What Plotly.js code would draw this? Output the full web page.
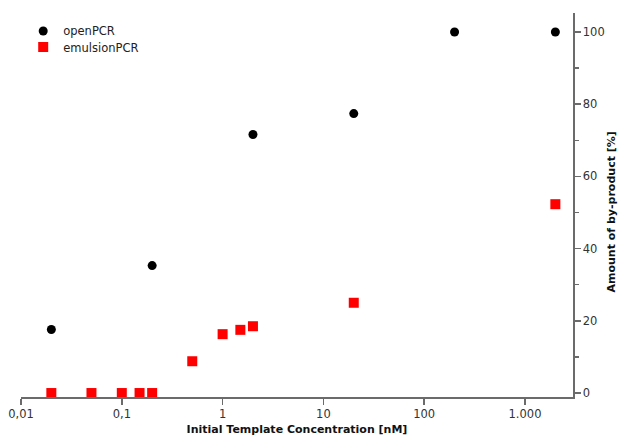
<!DOCTYPE html>
<html>
<head>
<meta charset="utf-8">
<script src="https://cdn.plot.ly/plotly-3.0.1.min.js"></script>
<style>html,body{margin:0;padding:0;background:#fff;}#chart{width:618px;height:436px;}</style>
</head>
<body>
<div id="chart"></div>
<script>
// Data
const openX = [0.02, 0.2, 2, 20, 200, 2000];
const openY = [17.6, 35.3, 71.6, 77.4, 100, 100];
const emulX = [0.02, 0.05, 0.1, 0.15, 0.2, 0.5, 1, 1.5, 2, 20, 2000];
const emulY = [0, 0, 0, 0, 0, 8.8, 16.3, 17.5, 18.5, 25.0, 52.3];
const xTickVals = [0.01, 0.1, 1, 10, 100, 1000];
const xTickText = ["0,01", "0,1", "1", "10", "100", "1.000"];
const yTickVals = [0, 20, 40, 60, 80, 100];

const FONT = "DejaVu Sans, Verdana, sans-serif";
const axisColor = "#6b6b6b";

const traces = [
  {x: openX, y: openY, name: "openPCR", type: "scatter", mode: "markers", legend: "legend",
   marker: {color: "#000000", size: 9, symbol: "circle"}},
  {x: emulX, y: emulY, name: "emulsionPCR", type: "scatter", mode: "markers", legend: "legend2",
   marker: {color: "#ff0000", size: 10, symbol: "square"}}
];

const legendFont = {family: FONT, size: 11.5, color: "#222222"};
const layout = {
  width: 618, height: 436,
  margin: {l: 21, r: 45, t: 13, b: 39, pad: 0},
  paper_bgcolor: "#ffffff", plot_bgcolor: "#ffffff",
  font: {family: FONT, size: 11, color: "#333333"},
  showlegend: true,
  legend: {x: 0.004, y: 0.991, xanchor: "left", yanchor: "top",
           bgcolor: "rgba(0,0,0,0)", font: legendFont},
  legend2: {x: 0.004, y: 0.949, xanchor: "left", yanchor: "top",
           bgcolor: "rgba(0,0,0,0)", font: legendFont},
  xaxis: {
    type: "log", range: [-2, 3.476],
    tickvals: xTickVals, ticktext: xTickText,
    showgrid: false, zeroline: false,
    showline: true, linecolor: axisColor, linewidth: 1.5,
    ticks: "outside", ticklen: 6, tickwidth: 1.5, tickcolor: axisColor,
    tickfont: {family: FONT, size: 11.5, color: "#333333"},
    title: {text: "<b>Initial Template Concentration [nM]</b>", font: {family: FONT, size: 11, color: "#111111"}, standoff: 8}
  },
  yaxis: {
    side: "right", range: [-1.1, 105.25],
    tickvals: yTickVals,
    showgrid: false, zeroline: false,
    showline: true, linecolor: axisColor, linewidth: 1.5,
    ticks: "outside", ticklen: 6, tickwidth: 1.5, tickcolor: axisColor,
    minor: {dtick: 10, ticks: "outside", ticklen: 4, tickwidth: 1.5, tickcolor: axisColor},
    tickfont: {family: FONT, size: 11.5, color: "#333333"}
  },
  annotations: [{
    text: "<b>Amount of by-product [%]</b>", textangle: -90,
    xref: "paper", yref: "y", x: 1, y: 50, xanchor: "center", yanchor: "middle",
    xshift: 38, showarrow: false,
    font: {family: FONT, size: 11, color: "#111111"}
  }]
};

Plotly.newPlot("chart", traces, layout, {displayModeBar: false, staticPlot: true});
</script>
</body>
</html>
